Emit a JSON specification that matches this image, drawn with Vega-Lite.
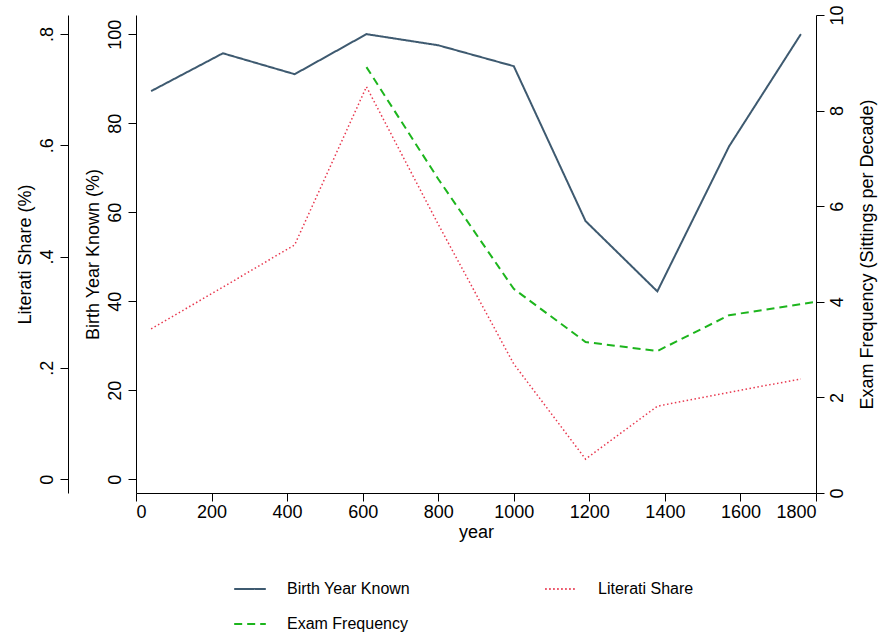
{
  "$schema": "https://vega.github.io/schema/vega-lite/v6.json",
  "width": 680,
  "height": 478,
  "padding": {"left": 16, "top": 4, "right": 5, "bottom": 0},
  "background": "white",
  "config": {
    "font": "Liberation Sans",
    "view": {"stroke": null},
    "axis": {"grid": false, "labelFontSize": 18, "titleFontSize": 18, "titleFontWeight": "normal", "labelColor": "black", "titleColor": "black", "domainColor": "black", "tickColor": "black", "tickSize": 8, "labelFont": "Liberation Sans", "titleFont": "Liberation Sans"},
    "legend": {"labelFontSize": 16, "labelFont": "Liberation Sans", "labelColor": "black"}
  },
  "datasets": {
    "birth": [
      {"year": 40, "v": 87.2}, {"year": 230, "v": 95.7}, {"year": 420, "v": 91.0},
      {"year": 610, "v": 100}, {"year": 800, "v": 97.5}, {"year": 1000, "v": 92.8},
      {"year": 1190, "v": 58.0}, {"year": 1380, "v": 42.2}, {"year": 1570, "v": 74.8},
      {"year": 1760, "v": 100}
    ],
    "lit": [
      {"year": 40, "v": 0.270}, {"year": 230, "v": 0.345}, {"year": 420, "v": 0.421},
      {"year": 610, "v": 0.705}, {"year": 800, "v": 0.458}, {"year": 1000, "v": 0.207},
      {"year": 1190, "v": 0.036}, {"year": 1380, "v": 0.131}, {"year": 1570, "v": 0.156},
      {"year": 1760, "v": 0.180}
    ],
    "exam": [
      {"year": 610, "v": 8.91}, {"year": 800, "v": 6.57}, {"year": 1000, "v": 4.27},
      {"year": 1190, "v": 3.16}, {"year": 1380, "v": 2.97}, {"year": 1570, "v": 3.72},
      {"year": 1800, "v": 4.0}
    ]
  },
  "encoding": {
    "x": {"field": "year", "type": "quantitative", "scale": {"domain": [0, 1800], "nice": false},
      "axis": {"values": [0, 200, 400, 600, 800, 1000, 1200, 1400, 1600, 1800], "format": "d", "title": "year", "titlePadding": 2}},
    "color": {"datum": "Birth Year Known", "type": "nominal",
      "scale": {"domain": ["Birth Year Known", "Exam Frequency", "Literati Share"], "range": ["#3e5a70", "#1db51d", "#e8384f"]},
      "legend": {"orient": "none", "legendX": 97, "legendY": 557, "title": null, "columns": 2, "symbolType": "stroke", "symbolSize": 1000, "symbolStrokeWidth": 2, "columnPadding": 130, "rowPadding": 10, "labelOffset": 20}},
    "strokeDash": {"datum": "Birth Year Known", "type": "nominal",
      "scale": {"domain": ["Birth Year Known", "Exam Frequency", "Literati Share"], "range": [[1, 0], [8, 5], [1.5, 2.5]]}, "legend": null}
  },
  "layer": [
    {
      "data": {"name": "birth"},
      "mark": {"type": "line", "strokeWidth": 2},
      "encoding": {
        "y": {"field": "v", "type": "quantitative", "scale": {"domain": [-3.1, 104.3], "nice": false, "zero": false},
          "axis": {"orient": "left", "values": [0, 20, 40, 60, 80, 100], "title": "Birth Year Known (%)", "labelAngle": -90, "labelAlign": "center", "labelBaseline": "bottom", "labelPadding": 4, "titlePadding": 4}},
        "color": {"datum": "Birth Year Known"},
        "strokeDash": {"datum": "Birth Year Known"}
      }
    },
    {
      "data": {"name": "lit"},
      "mark": {"type": "line", "strokeWidth": 1.5},
      "encoding": {
        "y": {"field": "v", "type": "quantitative", "scale": {"domain": [-0.0249, 0.834], "nice": false, "zero": false},
          "axis": {"orient": "left", "values": [0, 0.2, 0.4, 0.6, 0.8], "title": "Literati Share (%)", "labelAngle": -90, "labelAlign": "center", "labelBaseline": "bottom", "labelPadding": 4, "titlePadding": 4, "offset": 68,
            "labelExpr": "datum.value == 0 ? '0' : replace(format(datum.value, '.1f'), '0.', '.')"}},
        "color": {"datum": "Literati Share"},
        "strokeDash": {"datum": "Literati Share"}
      }
    },
    {
      "data": {"name": "exam"},
      "mark": {"type": "line", "strokeWidth": 2},
      "encoding": {
        "y": {"field": "v", "type": "quantitative", "scale": {"domain": [0, 10], "nice": false},
          "axis": {"orient": "right", "values": [0, 2, 4, 6, 8, 10], "title": "Exam Frequency (Sittings per Decade)", "titleAngle": -90, "labelAngle": -90, "labelAlign": "center", "labelBaseline": "top", "labelPadding": 4, "titlePadding": 30}},
        "color": {"datum": "Exam Frequency"},
        "strokeDash": {"datum": "Exam Frequency"}
      }
    }
  ],
  "resolve": {"scale": {"y": "independent"}}
}
